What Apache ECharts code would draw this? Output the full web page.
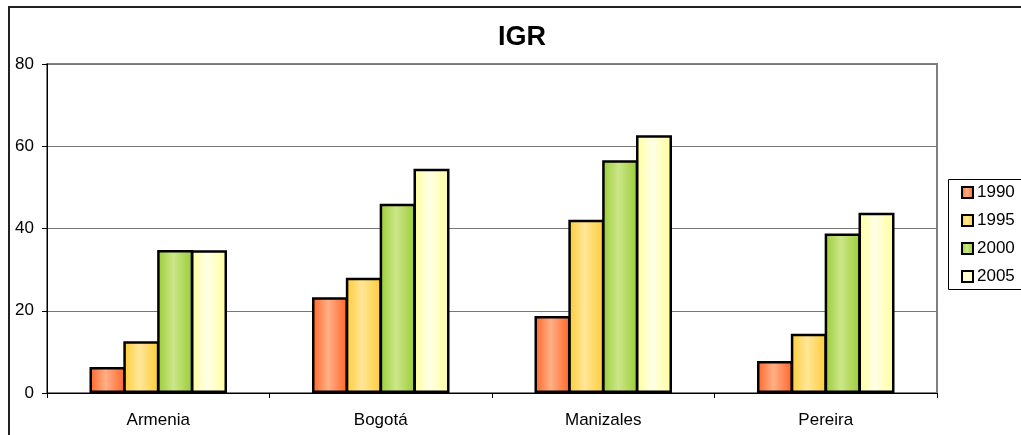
<!DOCTYPE html>
<html>
<head>
<meta charset="utf-8">
<script src="https://cdn.jsdelivr.net/npm/echarts@6/dist/echarts.min.js"></script>
<style>
html,body{margin:0;padding:0;background:#fff;}
#c{width:1021px;height:435px;}
</style>
</head>
<body>
<div id="c"></div>
<script>
const categories = ['Armenia', 'Bogotá', 'Manizales', 'Pereira'];
const seriesNames = ['1990', '1995', '2000', '2005'];
const v1990 = [6.3, 23.3, 18.7, 7.8];
const v1995 = [12.6, 28.0, 42.1, 14.4];
const v2000 = [34.8, 46.0, 56.6, 38.8];
const v2005 = [34.7, 54.5, 62.7, 43.8];
const yTicks = [0, 20, 40, 60, 80];

const allValues = [v1990, v1995, v2000, v2005];
const edgeColors = ['#FF6426', '#FFCC33', '#99CC33', '#FFFF99'];
const midColors = ['#FFB088', '#FFE699', '#CCE68A', '#FFFFE8'];

function grad(i) {
  return new echarts.graphic.LinearGradient(0, 0, 1, 0, [
    {offset: 0, color: edgeColors[i]},
    {offset: 0.45, color: midColors[i]},
    {offset: 1, color: edgeColors[i]}
  ]);
}

const chart = echarts.init(document.getElementById('c'), null, {renderer: 'canvas'});
const font = 'Liberation Sans, Arial, sans-serif';

chart.setOption({
  animation: false,
  backgroundColor: '#fff',
  textStyle: {fontFamily: font},
  grid: {left: 47, top: 64, right: 84, bottom: 42, show: true, borderColor: '#808080', borderWidth: 2, backgroundColor: 'transparent'},
  graphic: [
    {type: 'rect', silent: true, z: -1, shape: {x: 9, y: 7, width: 1200, height: 1000}, style: {fill: 'none', stroke: '#222', lineWidth: 2}},
    {type: 'rect', silent: true, shape: {x: 948.5, y: 179.5, width: 120, height: 110}, style: {fill: '#fff', stroke: '#000', lineWidth: 1}, z: 0},
    {type: 'text', silent: true, x: 522, y: 38, style: {text: 'IGR', font: 'bold 27px ' + font, fill: '#000', textAlign: 'center', textVerticalAlign: 'middle'}}
  ],
  legend: {
    orient: 'vertical',
    left: 961,
    top: 184,
    icon: 'rect',
    itemWidth: 11,
    itemHeight: 11,
    itemGap: 11,
    padding: 0,
    z: 5,
    data: seriesNames,
    textStyle: {fontFamily: font, fontSize: 17, color: '#000', lineHeight: 17, padding: [0, 0, 0, -1]},
    itemStyle: {borderColor: '#000', borderWidth: 2}
  },
  xAxis: {
    type: 'category',
    data: categories,
    axisLine: {lineStyle: {color: '#000', width: 1}},
    axisTick: {show: true, length: 5, lineStyle: {color: '#000'}},
    axisLabel: {fontFamily: font, fontSize: 17, color: '#000', margin: 19},
    splitLine: {show: false}
  },
  yAxis: {
    type: 'value',
    min: 0, max: 80, interval: 20,
    axisLine: {show: true, lineStyle: {color: '#000', width: 1}},
    axisTick: {show: true, length: 5, lineStyle: {color: '#000'}},
    axisLabel: {fontFamily: font, fontSize: 17, color: '#000', margin: 13,
      formatter: function (v) { return yTicks.indexOf(v) >= 0 ? String(v) : ''; }},
    splitLine: {show: true, lineStyle: {color: '#777', width: 1}}
  },
  series: seriesNames.map(function (name, i) {
    return {
      name: name,
      type: 'bar',
      data: allValues[i],
      barWidth: 36,
      barGap: '-6%',
      itemStyle: {color: grad(i), borderColor: '#000', borderWidth: 2.5}
    };
  })
});
</script>
</body>
</html>
